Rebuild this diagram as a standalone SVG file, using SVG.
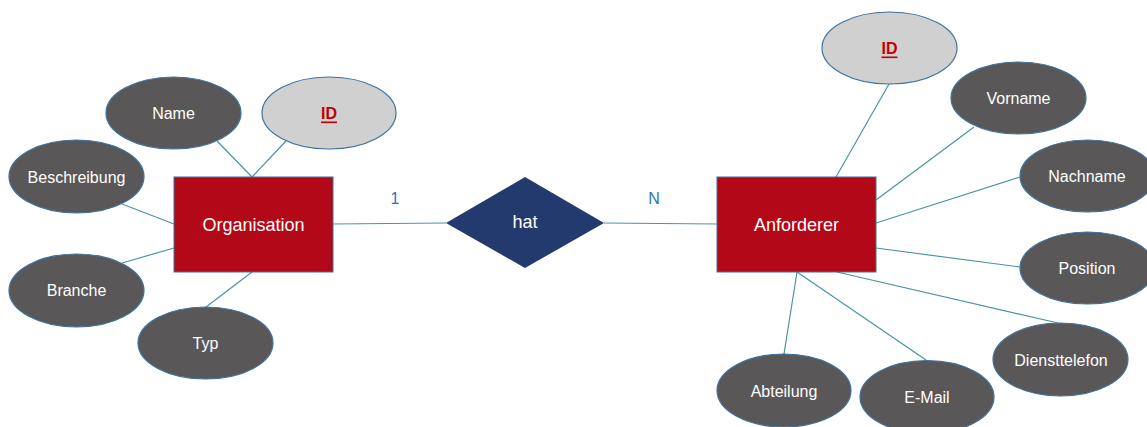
<svg xmlns="http://www.w3.org/2000/svg" width="1147" height="427" viewBox="0 0 1147 427">
<style>
text{font-family:"Liberation Sans",Arial,sans-serif;text-anchor:middle;dominant-baseline:central}
.attr{fill:#595758;stroke:#41719c;stroke-width:1.2}
.key{fill:#cfd0cf;stroke:#41719c;stroke-width:1.2}
.ent{fill:#b30818;stroke:#41719c;stroke-width:1}
.rel{fill:#223a6e}
.lbl{fill:#fff;font-size:16px}
.big{fill:#fff;font-size:18px}
.keyt{fill:#c00000;font-size:16px;font-weight:bold;text-decoration:underline}
.card{fill:#2e75b6;font-size:16px}
#connectors line{stroke:#4b93a6;stroke-width:1.2}
</style>
<rect width="1147" height="427" fill="#fff"/>
<g id="connectors">
<line x1="217" y1="141" x2="252" y2="177"/>
<line x1="286" y1="141" x2="252" y2="177"/>
<line x1="122" y1="204" x2="174" y2="224"/>
<line x1="122" y1="263" x2="174" y2="248"/>
<line x1="252" y1="272" x2="206" y2="307"/>
<line x1="333" y1="224" x2="446" y2="223"/>
<line x1="604" y1="223" x2="717" y2="224"/>
<line x1="889" y1="84" x2="836" y2="177"/>
<line x1="974" y1="127" x2="876" y2="200"/>
<line x1="1020" y1="177" x2="876" y2="223"/>
<line x1="876" y1="248" x2="1020" y2="267"/>
<line x1="837" y1="272" x2="1058" y2="323"/>
<line x1="797" y1="272" x2="784" y2="354"/>
<line x1="797" y1="272" x2="926" y2="360"/>
</g>
<g id="org">
<rect class="ent" x="174" y="177" width="159" height="95"/>
<text class="big" x="253.5" y="224.5">Organisation</text>
</g>
<g id="anf">
<rect class="ent" x="717" y="177" width="159" height="95"/>
<text class="big" x="796.5" y="224.5">Anforderer</text>
</g>
<g id="hat">
<polygon class="rel" points="446,223 525,177 604,223 525,268"/>
<text class="big" x="525" y="222">hat</text>
</g>
<g id="card1"><text class="card" x="395" y="198">1</text></g>
<g id="cardN"><text class="card" x="654" y="198">N</text></g>
<g id="org-name"><ellipse class="attr" cx="173.5" cy="113" rx="67.5" ry="36"/><text class="lbl" x="173.5" y="113">Name</text></g>
<g id="org-id"><ellipse class="key" cx="329" cy="113" rx="67" ry="36"/><text class="keyt" x="329" y="113">ID</text></g>
<g id="org-beschreibung"><ellipse class="attr" cx="76.5" cy="176.5" rx="67.5" ry="36.5"/><text class="lbl" x="76.5" y="177">Beschreibung</text></g>
<g id="org-branche"><ellipse class="attr" cx="76.5" cy="290.5" rx="67.5" ry="36.5"/><text class="lbl" x="76.5" y="290.5">Branche</text></g>
<g id="org-typ"><ellipse class="attr" cx="205.5" cy="343" rx="67.5" ry="36"/><text class="lbl" x="205.5" y="343">Typ</text></g>
<g id="anf-id"><ellipse class="key" cx="889.5" cy="48" rx="67.5" ry="36"/><text class="keyt" x="889.5" y="48">ID</text></g>
<g id="anf-vorname"><ellipse class="attr" cx="1018.5" cy="98" rx="67.5" ry="36"/><text class="lbl" x="1018.5" y="98">Vorname</text></g>
<g id="anf-nachname"><ellipse class="attr" cx="1087.5" cy="176" rx="67.5" ry="36"/><text class="lbl" x="1087" y="176">Nachname</text></g>
<g id="anf-position"><ellipse class="attr" cx="1087.5" cy="268" rx="67.5" ry="36"/><text class="lbl" x="1087" y="268">Position</text></g>
<g id="anf-diensttelefon"><ellipse class="attr" cx="1060.5" cy="359.5" rx="67.5" ry="36.5"/><text class="lbl" x="1061" y="360">Diensttelefon</text></g>
<g id="anf-abteilung"><ellipse class="attr" cx="784" cy="390.5" rx="67" ry="36.5"/><text class="lbl" x="784" y="391">Abteilung</text></g>
<g id="anf-email"><ellipse class="attr" cx="927" cy="397" rx="67" ry="36.5"/><text class="lbl" x="927" y="397">E-Mail</text></g>
</svg>
